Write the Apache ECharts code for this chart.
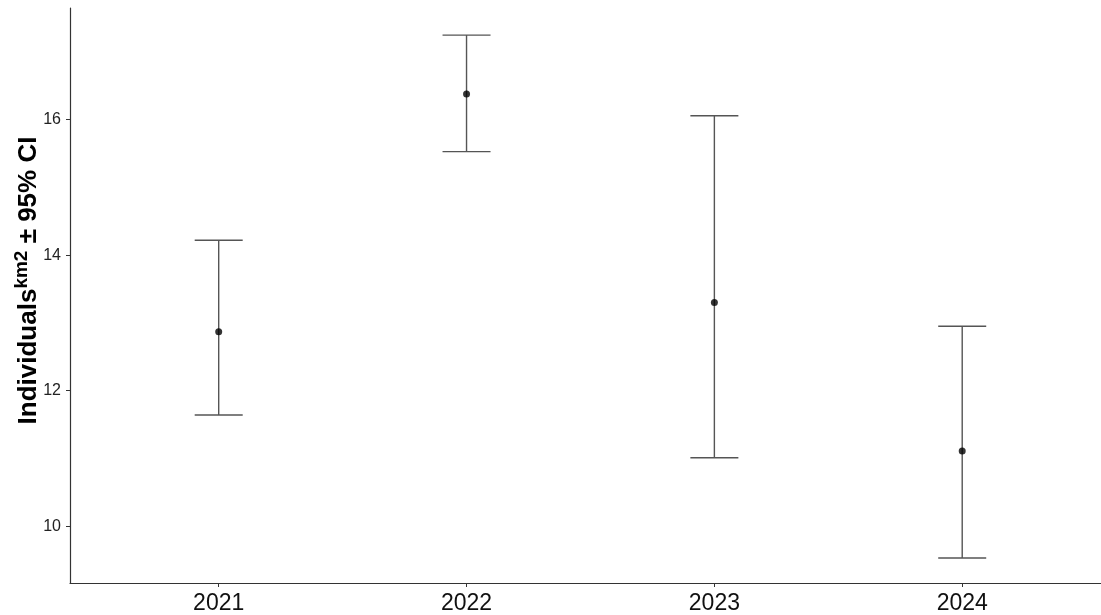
<!DOCTYPE html>
<html>
<head>
<meta charset="utf-8">
<script src="https://cdn.jsdelivr.net/npm/echarts@6/dist/echarts.min.js"></script>
<style>
    html, body { margin: 0; padding: 0; background: #fff; }
    #main { width: 1101px; height: 615px; }
</style>
</head>
<body>
<div id="main"></div>
<script>
// 数据
var years = ['2021', '2022', '2023', '2024'];
var meanVals = [12.87, 16.38, 13.30, 11.11];
var lowerVals = [11.64, 15.53, 11.01, 9.53];
var upperVals = [14.22, 17.25, 16.06, 12.95];
var yTicks = [10, 12, 14, 16];

var barData = [];
var pointData = [];
for (var i = 0; i < years.length; i++) {
    barData.push([i + 1, lowerVals[i], upperVals[i]]);
    pointData.push([i + 1, meanVals[i]]);
}

var chart = echarts.init(document.getElementById('main'));

// 误差线
function renderBar(params, api) {
    var lo = api.coord([api.value(0), api.value(1)]);
    var hi = api.coord([api.value(0), api.value(2)]);
    var half = 24;
    var style = { stroke: '#555', lineWidth: 1.4 };
    return {
        type: 'group',
        children: [
            { type: 'line', shape: { x1: lo[0], y1: lo[1], x2: hi[0], y2: hi[1] }, style: style },
            { type: 'line', shape: { x1: hi[0] - half, y1: hi[1], x2: hi[0] + half, y2: hi[1] }, style: style },
            { type: 'line', shape: { x1: lo[0] - half, y1: lo[1], x2: lo[0] + half, y2: lo[1] }, style: style }
        ]
    };
}

var option = {
    animation: false,
    backgroundColor: '#fff',
    textStyle: { fontFamily: 'Liberation Sans, Arial, sans-serif' },
    grid: { left: 70, right: 0, top: 8, bottom: 32, outerBoundsMode: 'none' },
    xAxis: {
        type: 'value',
        min: 0.4,
        max: 4.56,
        splitLine: { show: false },
        axisLine: { lineStyle: { color: '#333', width: 1.2 } },
        axisTick: { customValues: [1, 2, 3, 4], length: 4, lineStyle: { color: '#333' } },
        axisLabel: {
            customValues: [1, 2, 3, 4],
            color: '#111',
            fontSize: 23,
            margin: 9,
            formatter: function (v) { return years[Math.round(v) - 1]; }
        }
    },
    yAxis: {
        type: 'value',
        min: 9.16,
        max: 17.65,
        splitLine: { show: false },
        axisLine: { show: true, lineStyle: { color: '#333', width: 1.2 } },
        axisTick: { show: true, customValues: yTicks, length: 4, lineStyle: { color: '#333' } },
        axisLabel: { customValues: yTicks, color: '#222', fontSize: 16, margin: 9 },
        name: '{a|Individuals}{b|km2}{a| ± 95% CI}',
        nameLocation: 'middle',
        nameGap: 28,
        nameMoveOverlap: false,
        nameTextStyle: {
            padding: [0, 0, 0, 30],
            rich: {
                a: { fontSize: 26, fontWeight: 'bold', color: '#000', lineHeight: 30, verticalAlign: 'bottom' },
                b: { fontSize: 19, fontWeight: 'bold', color: '#000', lineHeight: 30, verticalAlign: 'top' }
            }
        }
    },
    series: [
        {
            type: 'custom',
            renderItem: renderBar,
            encode: { x: 0, y: [1, 2] },
            data: barData,
            z: 2
        },
        {
            type: 'scatter',
            symbol: 'circle',
            symbolSize: 7,
            itemStyle: { color: '#000' },
            data: pointData,
            z: 3
        }
    ]
};

chart.setOption(option);
window.addEventListener('resize', function () {
    chart.resize();
});
</script>
</body>
</html>
